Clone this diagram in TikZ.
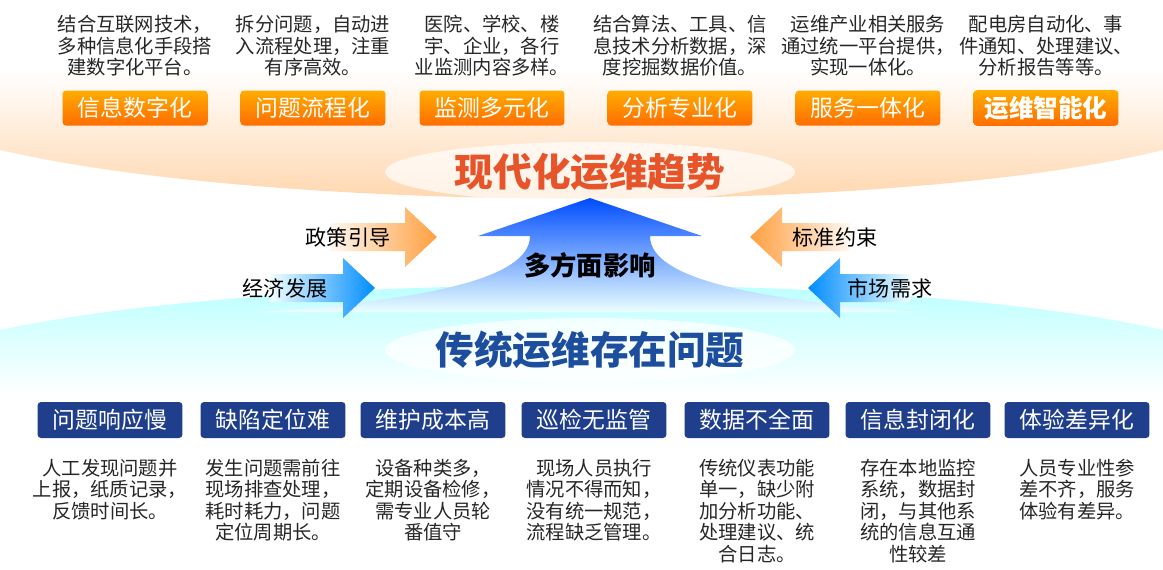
\documentclass[tikz,border=0pt]{standalone}
\usepackage{fontspec}
\setmainfont{Noto Sans CJK SC}
\definecolor{navy}{HTML}{1F3F8C}
\definecolor{tred}{HTML}{E8542A}
\definecolor{bblue}{HTML}{1D4E9E}
\begin{document}
\begin{tikzpicture}[x=0.02cm,y=-0.02cm,
  obtn/.style={rounded corners=2pt,minimum width=2.9cm,minimum height=0.7cm,top color=orange!65!yellow,bottom color=orange!85!red,text=white,font=\fontsize{13}{15}\selectfont},
  bbtn/.style={rounded corners=2pt,minimum width=2.9cm,minimum height=0.72cm,fill=navy,text=white,font=\fontsize{13}{15}\selectfont},
  desc/.style={align=center,font=\fontsize{11}{12.2}\selectfont,text=black!85},
  lbl/.style={font=\fontsize{12}{14}\selectfont}]
\useasboundingbox (0,0) rectangle (1163,569);
% top band
\shade[top color=white,bottom color=orange!35] (0,70) -- (1163,70) -- (1163,150) .. controls (900,215) and (280,215) .. (0,150) -- cycle;
\fill[white,opacity=0.7] (590,172) ellipse (205 and 30);
% bottom band
\shade[top color=cyan!30,bottom color=white] (0,330) .. controls (280,270) and (900,270) .. (1163,330) -- (1163,395) -- (0,395) -- cycle;
\fill[white,opacity=0.75] (590,350) ellipse (205 and 32);
% central arrow
\shade[top color=blue!70!cyan,bottom color=cyan!8] (478,236) -- (590,198) -- (702,236) -- (650,236) .. controls (650,280) and (760,300) .. (920,312) -- (260,312) .. controls (420,300) and (530,280) .. (530,236) -- cycle;
\node[font=\bfseries\fontsize{15}{17}\selectfont] (mid) at (590,265) {多方面影响};
\node[font=\bfseries\fontsize{22}{24}\selectfont,text=tred] (top) at (590,172) {现代化运维趋势};
\node[font=\bfseries\fontsize{22}{24}\selectfont,text=bblue] (bot) at (590,350) {传统运维存在问题};
% side arrows
\shade[left color=orange!5,right color=orange!75] (330,223) -- (405,223) -- (405,207) -- (437,237) -- (405,267) -- (405,251) -- (330,251) -- cycle;
\shade[left color=orange!75,right color=orange!5] (850,223) -- (782,223) -- (782,207) -- (750,237) -- (782,267) -- (782,251) -- (850,251) -- cycle;
\shade[left color=cyan!5,right color=blue!45!cyan] (270,274) -- (343,274) -- (343,258) -- (375,288) -- (343,318) -- (343,302) -- (270,302) -- cycle;
\shade[left color=blue!45!cyan,right color=cyan!5] (910,274) -- (840,274) -- (840,258) -- (808,288) -- (840,318) -- (840,302) -- (910,302) -- cycle;
\node[lbl] (l1) at (348,237) {政策引导};
\node[lbl] (l2) at (835,237) {标准约束};
\node[lbl] (l3) at (285,288) {经济发展};
\node[lbl] (l4) at (890,288) {市场需求};
% top buttons
\foreach \x/\t/\n in {135/信息数字化/o1,313/问题流程化/o2,492/监测多元化/o3,680/分析专业化/o4,868/服务一体化/o5}
  \node[obtn] (\n) at (\x,108) {\t};
\node[obtn,font=\bfseries\fontsize{14}{15}\selectfont] (o6) at (1046,108) {运维智能化};
\node[desc] (t1) at (135,46) {结合互联网技术，\\多种信息化手段搭\\建数字化平台。};
\node[desc] (t2) at (313,46) {拆分问题，自动进\\入流程处理，注重\\有序高效。};
\node[desc] (t3) at (492,46) {医院、学校、楼\\宇、企业，各行\\业监测内容多样。};
\node[desc] (t4) at (680,46) {结合算法、工具、信\\息技术分析数据，深\\度挖掘数据价值。};
\node[desc] (t5) at (868,46) {运维产业相关服务\\通过统一平台提供，\\实现一体化。};
\node[desc] (t6) at (1046,46) {配电房自动化、事\\件通知、处理建议、\\分析报告等等。};
% bottom buttons
\foreach \x/\t/\n in {110/问题响应慢/b1,273/缺陷定位难/b2,433/维护成本高/b3,594/巡检无监管/b4,757/数据不全面/b5,918/信息封闭化/b6,1077/体验差异化/b7}
  \node[bbtn] (\n) at (\x,420) {\t};
\node[desc,anchor=north] (d1) at (110,453) {人工发现问题并\\上报，纸质记录，\\反馈时间长。};
\node[desc,anchor=north] (d2) at (273,453) {发生问题需前往\\现场排查处理，\\耗时耗力，问题\\定位周期长。};
\node[desc,anchor=north] (d3) at (433,453) {设备种类多，\\定期设备检修，\\需专业人员轮\\番值守};
\node[desc,anchor=north] (d4) at (594,453) {现场人员执行\\情况不得而知，\\没有统一规范，\\流程缺乏管理。};
\node[desc,anchor=north] (d5) at (757,453) {传统仪表功能\\单一，缺少附\\加分析功能、\\处理建议、统\\合日志。};
\node[desc,anchor=north] (d6) at (918,453) {存在本地监控\\系统，数据封\\闭，与其他系\\统的信息互通\\性较差};
\node[desc,anchor=north] (d7) at (1077,453) {人员专业性参\\差不齐，服务\\体验有差异。};
\end{tikzpicture}
\end{document}
